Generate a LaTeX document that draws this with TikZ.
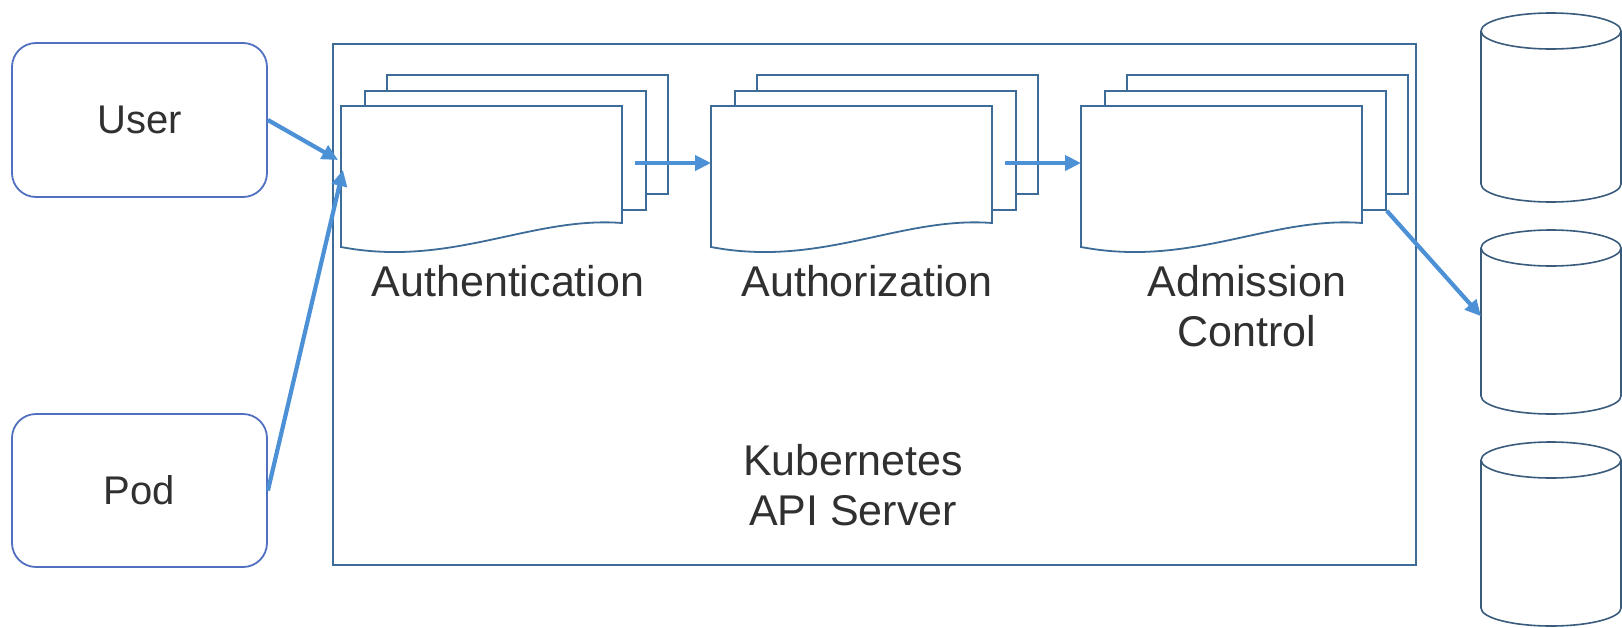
\documentclass[tikz,border=0pt]{standalone}
\usepackage{fontspec}
\setmainfont{Liberation Sans}
\usetikzlibrary{arrows.meta,calc}
\definecolor{boxblue}{RGB}{82,112,192}
\definecolor{docblue}{RGB}{62,108,152}
\definecolor{cylblue}{RGB}{58,92,124}
\definecolor{arrblue}{RGB}{76,144,214}
\definecolor{txt}{RGB}{48,48,48}
\tikzset{
  rbox/.style={draw=boxblue, line width=1.8pt, rounded corners=24pt, fill=white, inner sep=0pt,
    text=txt, font=\fontsize{40}{46}\selectfont},
  apibox/.style={draw=docblue, line width=1.8pt, inner sep=0pt},
  docrect/.style={draw=docblue, line width=1.8pt, fill=white, inner sep=0pt,
    minimum width=281pt, minimum height=119pt},
  docline/.style={draw=docblue, line width=1.8pt, fill=white},
  ghost/.style={inner sep=0pt, draw=none},
  lbl/.style={text=txt, font=\fontsize{43}{50}\selectfont, align=center, inner sep=0pt},
  arr/.style={draw=arrblue, line width=4.2pt, -{Triangle[length=16pt,width=15pt]}},
  cyl/.style={draw=cylblue, line width=1.6pt, fill=white}
}
\newcommand\docstack[3]{%
  \node[docrect, anchor=north west] (#1-back) at (#2+45,#3-32) {};
  \node[docrect, anchor=north west] (#1-mid) at (#2+23,#3-16) {};
  \node[ghost, anchor=north west, minimum width=281pt, minimum height=141pt] (#1) at (#2,#3) {};
  \draw[docline, shift={(#1.north west)}] (0,0) -- (281,0) -- (281,117)
    .. controls (190,110) and (110,162) .. (0,141) -- cycle;
}
\newcommand\dbcyl[3]{%
  \node[ghost, anchor=north west, minimum width=140pt, minimum height=#3pt-#2pt] (#1) at (1481,#2) {};
  \draw[cyl] (1481,#2) -- (1481,#3) arc[start angle=180, end angle=360, x radius=70pt, y radius=18pt] -- (1621,#2);
  \draw[cyl] (1551,#2) ellipse [x radius=70pt, y radius=18pt];
}
\begin{document}
\begin{tikzpicture}[x=1pt, y=-1pt]
\useasboundingbox (0,0) rectangle (1622,627);
\fill[white] (0,0) rectangle (1622,627);

% API server frame
\node[apibox, anchor=north west, minimum width=1083pt, minimum height=521pt] (api) at (332,43) {};

% client boxes
\node[rbox, minimum width=255pt, minimum height=154pt] (user) at (139.5,120) {User};
\node[rbox, minimum width=255pt, minimum height=153pt] (pod) at (139.5,490.5) {Pod};

% document stacks
\docstack{auth}{341}{106}
\docstack{authz}{711}{106}
\docstack{adm}{1081}{106}

% labels
\node[lbl] (authlbl) at (508,281) {Authentication};
\node[lbl] (authzlbl) at (867,281) {Authorization};
\node[lbl] (admlbl) at (1247,306) {Admission\\Control};
\node[lbl] (apilbl) at (853,485) {Kubernetes\\API Server};

% databases
\dbcyl{db1}{31}{184}
\dbcyl{db2}{248}{396}
\dbcyl{db3}{460}{608}

% connectors
\draw[arr] (user.east) -- ($(auth.north west)+(-3,54)$);
\draw[arr] (pod.east) -- ($(auth.north west)+(2,64)$);
\draw[arr] ($(auth.north east)+(13,57)$) -- ($(authz.north west)+(0,57)$);
\draw[arr] ($(authz.north east)+(13,57)$) -- ($(adm.north west)+(0,57)$);
\draw[arr] (adm-mid.south east) -- ($(db2.west)+(0,-6)$);
\end{tikzpicture}
\end{document}
